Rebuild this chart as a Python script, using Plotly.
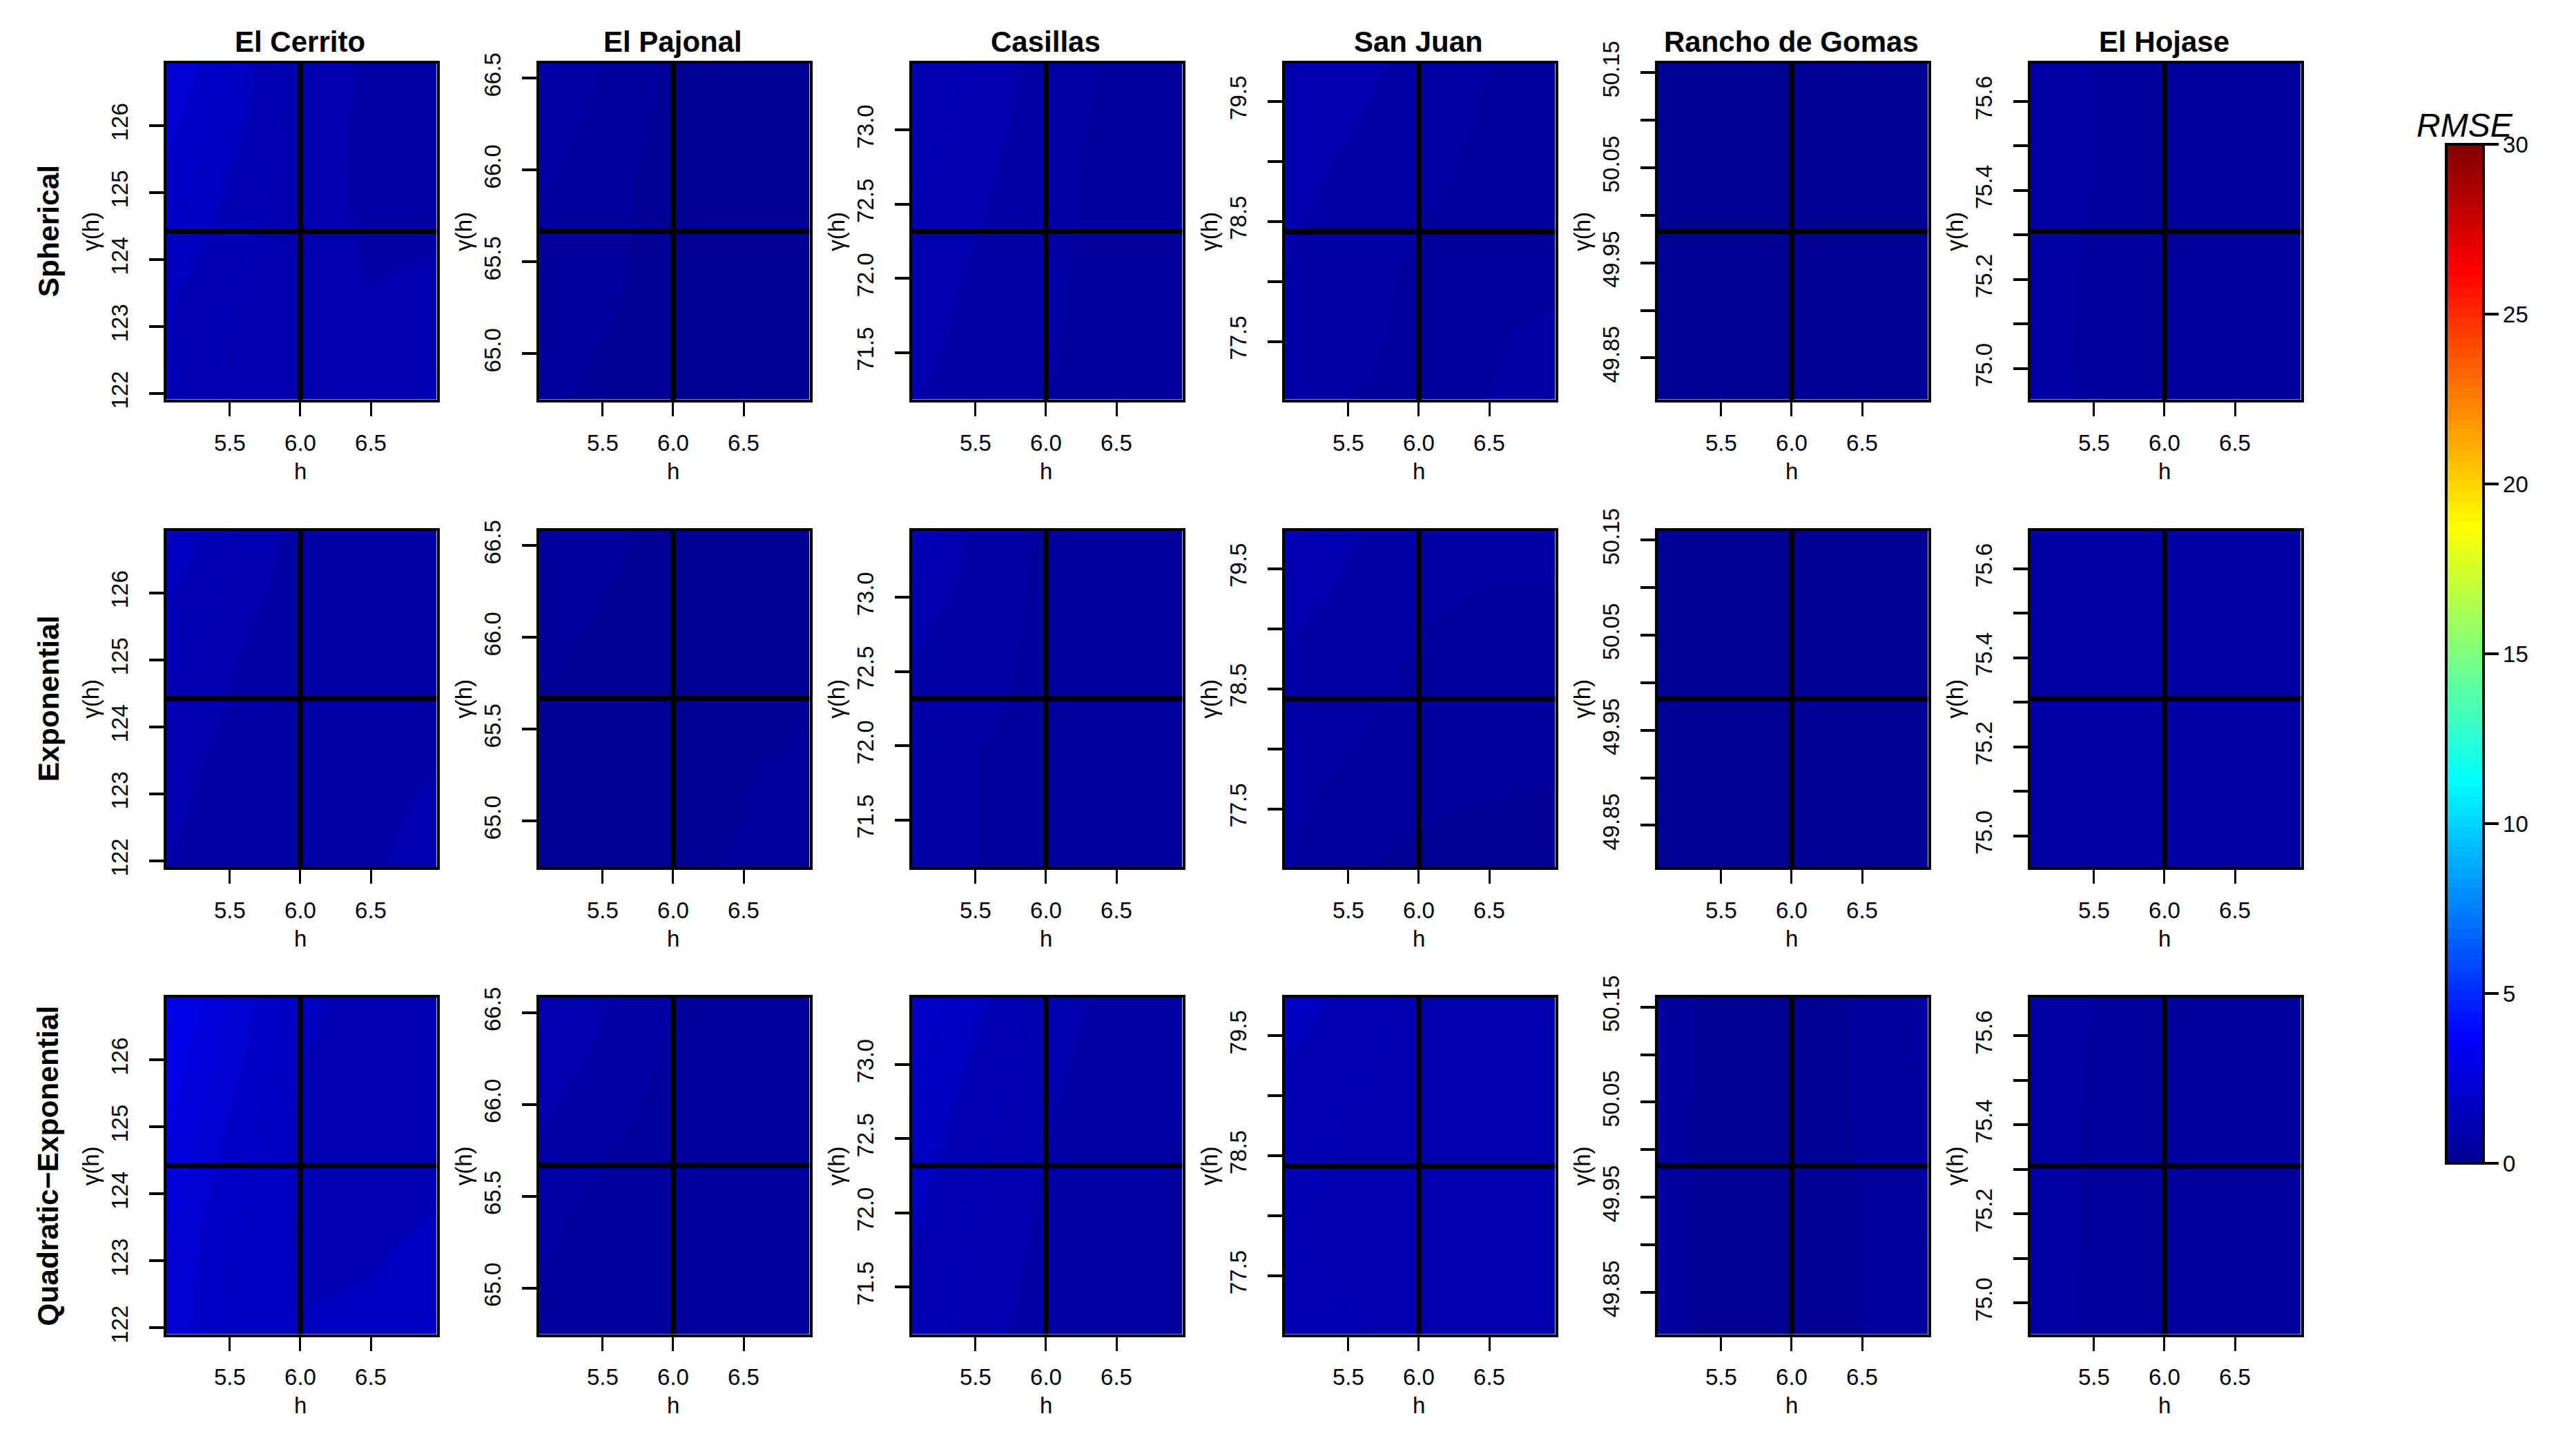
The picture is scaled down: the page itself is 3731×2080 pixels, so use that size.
import numpy as np
import plotly.graph_objects as go

W, H = 3731, 2080
# the page body keeps its 8px margin, so the figure is 16px smaller than the window
PAGE_MARGIN = 8
FIG_W, FIG_H = W - 2 * PAGE_MARGIN, H - 2 * PAGE_MARGIN

sites = ["El Cerrito", "El Pajonal", "Casillas", "San Juan", "Rancho de Gomas", "El Hojase"]
models = ["Spherical", "Exponential", "Quadratic\u2212Exponential"]

# h grid is the same for every panel
h_grid = [5.0, 5.5, 6.0, 6.5, 7.0]
h_ticks = [5.5, 6.0, 6.5]
h_range = [5.047, 6.968]
nugget_h = 6.0

# gamma grid, bottom to top, one per site
gamma_cerrito = [121.9, 123.5, 125.3, 126.9]
gamma_pajonal = [64.75, 65.4, 66.0, 66.6]
gamma_casillas = [71.2, 72.0, 72.8, 73.45]
gamma_sanjuan = [77.0, 78.0, 79.0, 79.8]
gamma_rancho = [49.81, 49.93, 50.05, 50.16]
gamma_hojase = [74.93, 75.18, 75.44, 75.69]
gamma_grids = [gamma_cerrito, gamma_pajonal, gamma_casillas, gamma_sanjuan, gamma_rancho, gamma_hojase]

gamma_ranges = [[121.906, 126.93], [64.749, 66.582], [71.182, 73.451], [77.014, 79.818], [49.806, 50.16], [74.93, 75.686]]
sills = [124.42, 65.667, 72.318, 78.415, 49.983, 75.308]

tick_cerrito = [122, 123, 124, 125, 126]
tick_pajonal = [65.0, 65.5, 66.0, 66.5]
tick_casillas = [71.5, 72.0, 72.5, 73.0]
tick_sanjuan = [77.5, 78.0, 78.5, 79.0, 79.5]
tick_rancho = [49.85, 49.90, 49.95, 50.00, 50.05, 50.10, 50.15]
tick_hojase = [75.0, 75.1, 75.2, 75.3, 75.4, 75.5, 75.6]
tick_vals = [tick_cerrito, tick_pajonal, tick_casillas, tick_sanjuan, tick_rancho, tick_hojase]

text_cerrito = ["122", "123", "124", "125", "126"]
text_pajonal = ["65.0", "65.5", "66.0", "66.5"]
text_casillas = ["71.5", "72.0", "72.5", "73.0"]
text_sanjuan = ["77.5", "", "78.5", "", "79.5"]
text_rancho = ["49.85", "", "49.95", "", "50.05", "", "50.15"]
text_hojase = ["75.0", "", "75.2", "", "75.4", "", "75.6"]
tick_texts = [text_cerrito, text_pajonal, text_casillas, text_sanjuan, text_rancho, text_hojase]

# RMSE, rows go bottom to top
sph_cerrito = [[1.5, 1.15, 0.95, 1.0, 1.3], [1.6, 1.2, 0.95, 0.9, 0.95], [2.1, 1.5, 1.0, 0.85, 0.8], [2.5, 1.75, 1.05, 0.85, 0.7]]
sph_pajonal = [[0.35, 0.25, 0.2, 0.15, 0.2], [0.5, 0.35, 0.2, 0.1, 0.1], [0.7, 0.4, 0.2, 0.1, 0.1], [1.0, 0.6, 0.25, 0.1, 0.1]]
sph_casillas = [[0.95, 0.75, 0.6, 0.5, 0.55], [1.1, 0.85, 0.65, 0.5, 0.45], [1.3, 1.0, 0.7, 0.5, 0.4], [1.5, 1.15, 0.75, 0.55, 0.4]]
sph_sanjuan = [[0.8, 0.6, 0.55, 0.6, 0.8], [0.9, 0.7, 0.55, 0.55, 0.55], [1.05, 0.85, 0.65, 0.55, 0.5], [1.2, 1.05, 0.75, 0.6, 0.55]]
sph_rancho = [[0.1, 0.1, 0.1, 0.1, 0.25], [0.1, 0.1, 0.1, 0.1, 0.15], [0.12, 0.1, 0.1, 0.1, 0.1], [0.15, 0.12, 0.1, 0.1, 0.1]]
sph_hojase = [[0.7, 0.55, 0.45, 0.45, 0.6], [0.75, 0.55, 0.45, 0.45, 0.55], [0.75, 0.6, 0.45, 0.4, 0.45], [0.75, 0.6, 0.45, 0.4, 0.4]]

exp_cerrito = [[0.9, 0.75, 0.7, 0.85, 1.1], [1.05, 0.8, 0.7, 0.75, 0.9], [1.4, 0.95, 0.7, 0.6, 0.65], [1.9, 1.2, 0.8, 0.6, 0.6]]
exp_pajonal = [[0.2, 0.15, 0.2, 0.35, 0.6], [0.2, 0.15, 0.15, 0.25, 0.35], [0.4, 0.25, 0.15, 0.1, 0.15], [0.6, 0.4, 0.2, 0.05, 0.05]]
exp_casillas = [[0.7, 0.6, 0.55, 0.55, 0.55], [0.8, 0.6, 0.55, 0.5, 0.5], [1.0, 0.7, 0.55, 0.5, 0.45], [1.6, 0.8, 0.55, 0.45, 0.45]]
exp_sanjuan = [[0.65, 0.35, 0.2, 0.1, 0.1], [0.75, 0.6, 0.5, 0.45, 0.4], [0.95, 0.75, 0.6, 0.55, 0.55], [1.4, 0.95, 0.7, 0.65, 0.65]]
exp_rancho = [[0.15, 0.12, 0.1, 0.12, 0.15], [0.15, 0.12, 0.1, 0.1, 0.15], [0.15, 0.12, 0.1, 0.1, 0.12], [0.15, 0.12, 0.1, 0.1, 0.1]]
exp_hojase = [[0.75, 0.7, 0.65, 0.7, 0.75], [0.75, 0.75, 0.7, 0.65, 0.7], [0.7, 0.85, 0.75, 0.65, 0.65], [0.6, 0.75, 0.75, 0.65, 0.6]]

qua_cerrito = [[2.4, 1.7, 1.5, 1.6, 1.9], [2.5, 1.8, 1.45, 1.4, 1.55], [2.9, 2.1, 1.45, 1.3, 1.3], [3.2, 2.4, 1.6, 1.3, 1.25]]
qua_pajonal = [[0.55, 0.4, 0.35, 0.3, 0.35], [0.7, 0.5, 0.45, 0.4, 0.35], [1.0, 0.7, 0.5, 0.35, 0.35], [1.35, 0.95, 0.6, 0.35, 0.35]]
qua_casillas = [[1.4, 1.05, 0.75, 0.7, 0.55], [1.6, 1.15, 0.85, 0.7, 0.55], [1.85, 1.35, 0.95, 0.7, 0.6], [2.1, 1.6, 1.05, 0.8, 0.65]]
qua_sanjuan = [[1.2, 1.25, 1.0, 0.95, 1.0], [1.25, 1.1, 1.0, 0.95, 0.95], [1.4, 1.2, 1.05, 0.95, 0.95], [1.7, 1.4, 1.15, 1.0, 0.95]]
qua_rancho = [[0.45, 0.2, 0.1, 0.3, 0.6], [0.45, 0.2, 0.1, 0.3, 0.65], [0.45, 0.2, 0.1, 0.35, 0.65], [0.5, 0.2, 0.1, 0.35, 0.7]]
qua_hojase = [[0.75, 0.55, 0.4, 0.4, 0.55], [0.8, 0.55, 0.4, 0.4, 0.45], [0.8, 0.55, 0.4, 0.4, 0.4], [0.85, 0.6, 0.45, 0.4, 0.4]]

rmse = [
    [sph_cerrito, sph_pajonal, sph_casillas, sph_sanjuan, sph_rancho, sph_hojase],
    [exp_cerrito, exp_pajonal, exp_casillas, exp_sanjuan, exp_rancho, exp_hojase],
    [qua_cerrito, qua_pajonal, qua_casillas, qua_sanjuan, qua_rancho, qua_hojase],
]

# panel boxes in pixels of the window (plotly draws the frame outside of these)
col_left = [240.5, 780.5, 1320.5, 1860.5, 2400.5, 2940.5]
row_top = [91.5, 768.5, 1445]
panel_w, panel_h = 392, 487.5

font = "Liberation Sans"
tick_size = 33


def px(x):
    return (x - PAGE_MARGIN) / FIG_W


def py(y):
    return 1 - (y - PAGE_MARGIN) / FIG_H


# stepped jet like palette, R's tim.colors
stops = [0, 1 / 8, 3 / 8, 5 / 8, 7 / 8, 1]
reds = [0, 0, 0, 255, 255, 128]
greens = [0, 0, 255, 255, 0, 0]
blues = [143, 255, 255, 0, 0, 0]
n_levels = 100
colorscale = []
for i in range(n_levels):
    t = (i + 0.5) / n_levels
    col = "rgb(%d,%d,%d)" % (np.interp(t, stops, reds), np.interp(t, stops, greens), np.interp(t, stops, blues))
    colorscale.append([i / n_levels, col])
    colorscale.append([(i + 1) / n_levels, col])

fig = go.Figure()
annotations = []


def add_text(text, x, y, size, angle=0, bold=False):
    if bold:
        text = "<b>" + text + "</b>"
    annotations.append(dict(text=text, x=px(x), y=py(y), xref="paper", yref="paper", showarrow=False,
                            xanchor="center", yanchor="middle", textangle=angle,
                            font=dict(family=font, size=size, color="black")))


axes = {}
n = 0
for r in range(3):
    for c in range(6):
        n += 1
        xa = "x" if n == 1 else "x%d" % n
        ya = "y" if n == 1 else "y%d" % n
        fig.add_trace(go.Heatmap(x=h_grid, y=gamma_grids[c], z=rmse[r][c], coloraxis="coloraxis",
                                 zsmooth="best", xaxis=xa, yaxis=ya))
        # cross at the sill and at h = 6
        fig.add_trace(go.Scatter(x=h_range, y=[sills[c], sills[c]], mode="lines", xaxis=xa, yaxis=ya,
                                 line=dict(color="black", width=7.5), showlegend=False, hoverinfo="skip"))
        fig.add_trace(go.Scatter(x=[nugget_h, nugget_h], y=gamma_ranges[c], mode="lines", xaxis=xa, yaxis=ya,
                                 line=dict(color="black", width=7.5), showlegend=False, hoverinfo="skip"))
        left, top = col_left[c], row_top[r]
        axes["xaxis" + ("" if n == 1 else str(n))] = dict(
            domain=[px(left), px(left + panel_w)], range=h_range, anchor=ya,
            tickmode="array", tickvals=h_ticks, ticktext=["5.5", "6.0", "6.5"],
            ticks="outside", ticklen=20, tickwidth=3, tickcolor="black", ticklabelstandoff=10,
            showline=True, mirror=True, linecolor="black", linewidth=4, showgrid=False, zeroline=False,
            tickfont=dict(family=font, size=tick_size, color="black"))
        axes["yaxis" + ("" if n == 1 else str(n))] = dict(
            domain=[py(top + panel_h), py(top)], range=gamma_ranges[c], anchor=xa,
            tickmode="array", tickvals=tick_vals[c], ticktext=tick_texts[c], tickangle=-90,
            ticks="outside", ticklen=21, tickwidth=4, tickcolor="black", ticklabelstandoff=17,
            showline=True, mirror=True, linecolor="black", linewidth=4, showgrid=False, zeroline=False,
            tickfont=dict(family=font, size=tick_size, color="black"))
        add_text("h", left + panel_w / 2 - 1.5, top + panel_h + 103, tick_size)
        add_text("\u03b3(h)", left - 109, top + panel_h / 2, tick_size, angle=-90)

for c in range(6):
    add_text(sites[c], col_left[c] + panel_w / 2 - 2, 60, 42, bold=True)
for r in range(3):
    add_text(models[r], 70, row_top[r] + panel_h / 2, 42.5, angle=-90, bold=True)
add_text("<i>RMSE</i>", 3570, 181, 48)

fig.update_layout(
    width=FIG_W, height=FIG_H, margin=dict(l=0, r=0, t=0, b=0, autoexpand=False), autosize=False,
    paper_bgcolor="white", plot_bgcolor="white", showlegend=False,
    font=dict(family=font, color="black"),
    annotations=annotations,
    coloraxis=dict(
        cmin=0, cmax=30, colorscale=colorscale,
        colorbar=dict(
            x=px(3542.5), xanchor="left", xpad=0, y=py(1685), yanchor="bottom", ypad=0,
            thickness=54, thicknessmode="pixels", len=1476, lenmode="pixels",
            outlinewidth=4, outlinecolor="black", borderwidth=0,
            tickmode="array", tickvals=[0, 5, 10, 15, 20, 25, 30],
            ticks="outside", ticklen=20, tickwidth=4, tickcolor="black", tickprefix="\u2002",
            tickfont=dict(family=font, size=tick_size, color="black"),
        ),
    ),
    **axes,
)

fig.write_html("out.html")
